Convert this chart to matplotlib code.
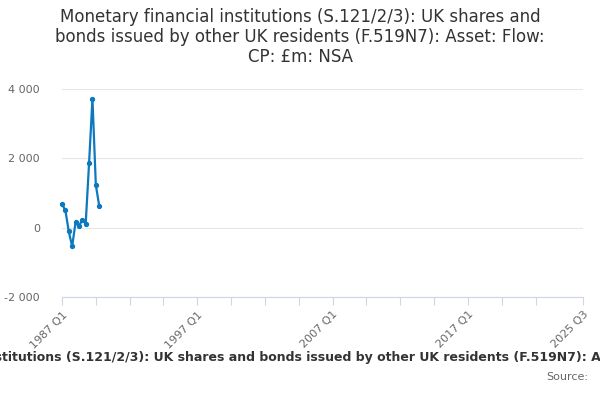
import matplotlib
matplotlib.use("Agg")
import matplotlib.pyplot as plt
from matplotlib.ticker import FuncFormatter

# quarterly values, 1987 Q1 onwards (£m)
quarters = ["1987 Q1", "1987 Q2", "1987 Q3", "1987 Q4",
            "1988 Q1", "1988 Q2", "1988 Q3", "1988 Q4",
            "1989 Q1", "1989 Q2", "1989 Q3", "1989 Q4"]
values = [680, 500, -110, -540, 150, 40, 230, 110, 1860, 3720, 1230, 630]

# axis runs 1987 Q1 .. 2025 Q3 (154 quarters)
tick_pos = [0, 40, 80, 120, 154]
tick_labels = ["1987 Q1", "1997 Q1", "2007 Q1", "2017 Q1", "2025 Q3"]
minor_pos = list(range(0, 150, 10)) + [154]

title = ("Monetary financial institutions (S.121/2/3): UK shares and bonds issued by "
         "other UK residents (F.519N7): Asset: Flow: CP: £m: NSA")

fig = plt.figure(figsize=(6, 4), dpi=100)
ax = fig.add_axes([62 / 600, 103 / 400, 521 / 600, 208 / 400])

x = list(range(len(values)))
ax.plot(x, values, color="#0b78c0", lw=1.6, marker="o", ms=2.8, zorder=3, clip_on=False)

ax.set_xlim(0, 154)
ax.set_ylim(-2000, 4000)
ax.set_yticks([-2000, 0, 2000, 4000])
ax.yaxis.set_major_formatter(FuncFormatter(lambda v, p: f"{int(v):,}".replace(",", " ")))
ax.grid(axis="y", color="#e6e6e6", lw=0.8)
ax.set_axisbelow(True)

ax.set_xticks(minor_pos)
ax.set_xticklabels([tick_labels[tick_pos.index(p)] if p in tick_pos else "" for p in minor_pos],
                   rotation=45, ha="right", rotation_mode="anchor", fontsize=8, color="#666666")
ax.tick_params(axis="x", length=6, color="#ccd6eb", width=0.8, pad=3)
ax.tick_params(axis="y", length=0, labelsize=8, labelcolor="#666666", pad=16)

for s in ["top", "right", "left"]:
    ax.spines[s].set_visible(False)
ax.spines["bottom"].set_color("#ccd6eb")

fig.text(0.5, 0.98,
         "Monetary financial institutions (S.121/2/3): UK shares and\n"
         "bonds issued by other UK residents (F.519N7): Asset: Flow:\n"
         "CP: £m: NSA",
         ha="center", va="top", fontsize=12, color="#333333", linespacing=1.15)

fig.text(0.513, 0.107, title, ha="center", va="center", fontsize=9,
         fontweight="bold", color="#333333")
fig.text(0.98, 0.057, "Source:", ha="right", va="center", fontsize=8, color="#666666")

fig.savefig("out.png", dpi=100)
